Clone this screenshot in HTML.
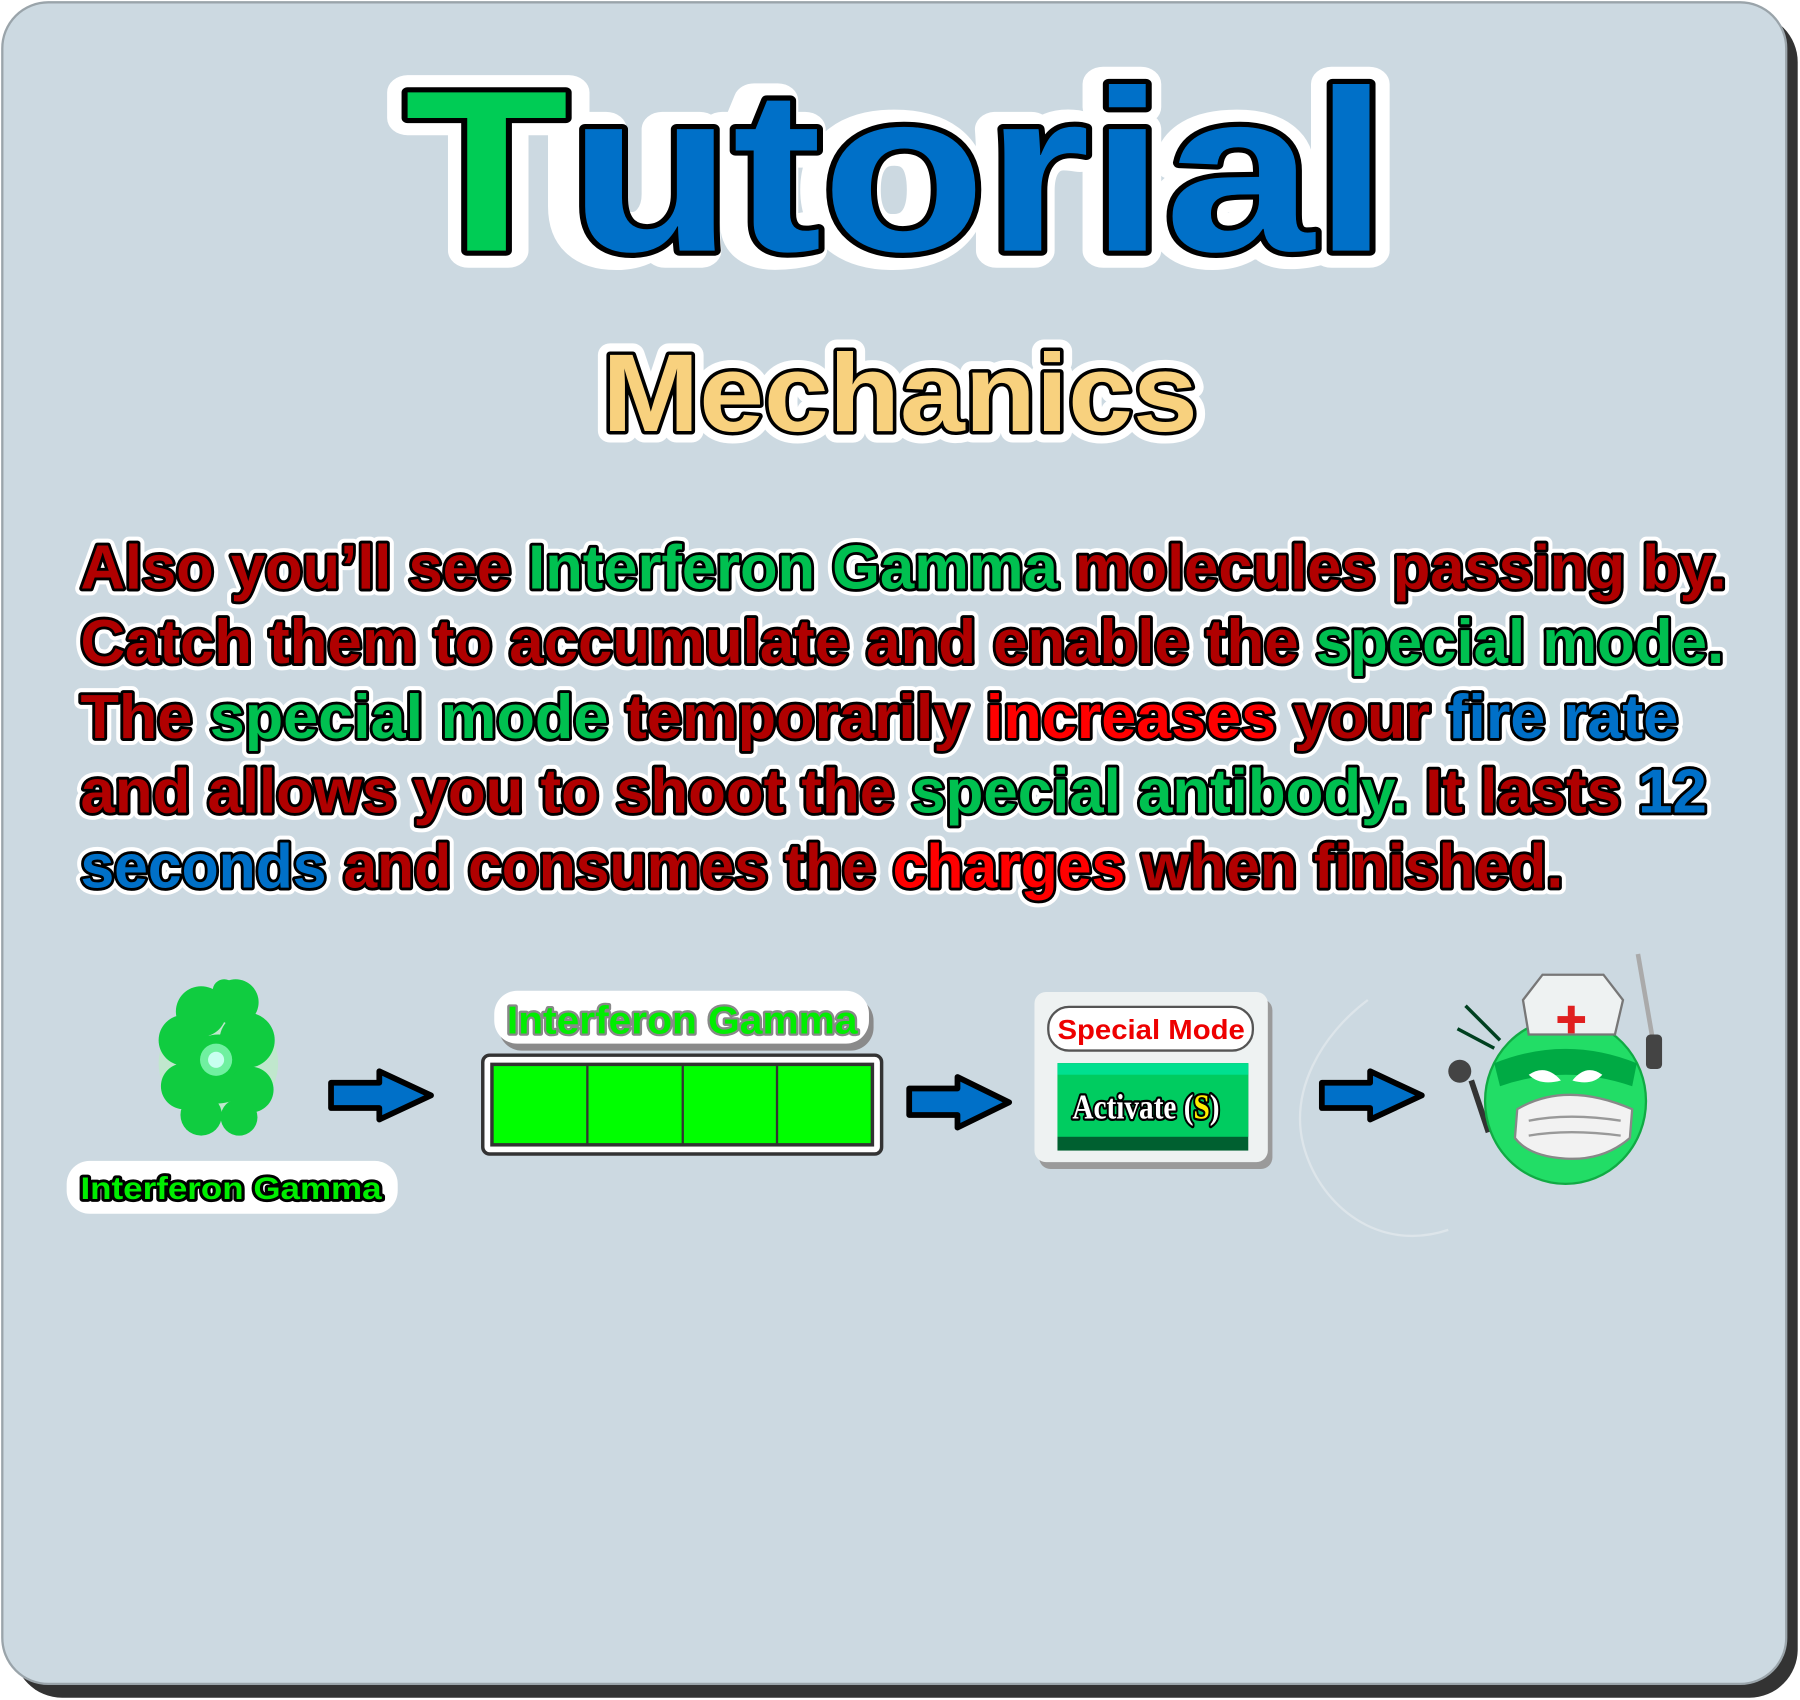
<!DOCTYPE html>
<html><head><meta charset="utf-8"><style>
html,body{margin:0;padding:0;background:#fff;width:1800px;height:1700px;overflow:hidden}
svg{display:block}
.t{font-family:"Liberation Sans",sans-serif;font-weight:bold;paint-order:stroke;stroke-linejoin:round}
</style></head><body>
<svg width="1800" height="1700" viewBox="0 0 1566 1479" preserveAspectRatio="none" xmlns="http://www.w3.org/2000/svg">
<rect x="0" y="0" width="1566" height="1479" fill="#fff"/>
<rect x="12" y="12" width="1552" height="1465" rx="42" fill="#333"/>
<rect x="2" y="2" width="1552" height="1463" rx="40" fill="#ccd9e1" stroke="#9aa4aa" stroke-width="2"/>

<!-- Title -->
<g class="t" font-size="200" text-anchor="start">
<text x="352" y="218" textLength="856" lengthAdjust="spacingAndGlyphs" stroke="#fff" stroke-width="30" fill="#fff">Tutorial</text>
<text x="352" y="218" textLength="856" lengthAdjust="spacingAndGlyphs" stroke="#000" stroke-width="9"><tspan fill="#00cc55">T</tspan><tspan fill="#0070c8">utorial</tspan></text>
</g>
<g class="t" font-size="96">
<text x="524" y="375" textLength="518" lengthAdjust="spacingAndGlyphs" stroke="#fff" stroke-width="20" fill="#fff">Mechanics</text>
<text x="524" y="375" textLength="518" lengthAdjust="spacingAndGlyphs" stroke="#000" stroke-width="6" fill="#f8d17e">Mechanics</text>
</g>

<!-- Paragraph -->
<g class="t" font-size="54">
<g stroke="#fff" stroke-width="12" fill="#fff">
<text x="70" y="512" textLength="1432" lengthAdjust="spacingAndGlyphs">Also you’ll see Interferon Gamma molecules passing by.</text>
<text x="70" y="577" textLength="1430" lengthAdjust="spacingAndGlyphs">Catch them to accumulate and enable the special mode.</text>
<text x="70" y="642" textLength="1390" lengthAdjust="spacingAndGlyphs">The special mode temporarily increases your fire rate</text>
<text x="70" y="707" textLength="1415" lengthAdjust="spacingAndGlyphs">and allows you to shoot the special antibody. It lasts 12</text>
<text x="70" y="772" textLength="1290" lengthAdjust="spacingAndGlyphs">seconds and consumes the charges when finished.</text>
</g>
<g stroke="#000" stroke-width="5" fill="#b00000">
<text x="70" y="512" textLength="1432" lengthAdjust="spacingAndGlyphs">Also you’ll see <tspan fill="#00c050">Interferon Gamma</tspan> molecules passing by.</text>
<text x="70" y="577" textLength="1430" lengthAdjust="spacingAndGlyphs">Catch them to accumulate and enable the <tspan fill="#00c050">special mode.</tspan></text>
<text x="70" y="642" textLength="1390" lengthAdjust="spacingAndGlyphs">The <tspan fill="#00c050">special mode</tspan> temporarily <tspan fill="#ff0000">increases</tspan> your <tspan fill="#0070c8">fire rate</tspan></text>
<text x="70" y="707" textLength="1415" lengthAdjust="spacingAndGlyphs">and allows you to shoot the <tspan fill="#00c050">special antibody.</tspan> It lasts <tspan fill="#0070c8">12</tspan></text>
<text x="70" y="772" textLength="1290" lengthAdjust="spacingAndGlyphs"><tspan fill="#0070c8">seconds</tspan> and consumes the <tspan fill="#ff0000">charges</tspan> when finished.</text>
</g>
</g>

<!-- Molecule -->
<g>
<ellipse cx="190" cy="925" rx="52" ry="48" fill="#b8f0c0" opacity="0.6"/>
<g fill="#10cc40">
<circle cx="175" cy="880" r="22"/><circle cx="205" cy="872" r="20"/><circle cx="160" cy="905" r="22"/>
<circle cx="215" cy="905" r="24"/><circle cx="190" cy="930" r="30"/><circle cx="160" cy="945" r="20"/>
<circle cx="218" cy="948" r="20"/><circle cx="175" cy="970" r="18"/><circle cx="208" cy="972" r="16"/>
<circle cx="195" cy="862" r="10"/>
</g>
<circle cx="188" cy="922" r="14" fill="#70f0a0"/>
<circle cx="188" cy="922" r="7" fill="#c8fff0"/>
</g>
<rect x="58" y="1010" width="288" height="46" rx="20" fill="#fff"/>
<text class="t" x="70" y="1043" font-size="27" textLength="262" lengthAdjust="spacingAndGlyphs" stroke="#000" stroke-width="5" fill="#00ee00">Interferon Gamma</text>

<!-- Arrows -->
<g fill="#0070c8" stroke="#000" stroke-width="5" stroke-linejoin="round">
<path d="M288 942 H330 V932 L375 953 L330 974 V964 H288 Z"/>
<path d="M791 947 H833 V937 L878 959 L833 981 V970 H791 Z"/>
<path d="M1150 942 H1192 V932 L1237 953 L1192 974 V964 H1150 Z"/>
</g>

<!-- Bar -->
<rect x="434" y="868" width="326" height="46" rx="20" fill="#8a8a8a"/>
<rect x="430" y="862" width="326" height="46" rx="20" fill="#fff"/>
<text class="t" x="441" y="899" font-size="34" textLength="305" lengthAdjust="spacingAndGlyphs" stroke="#888" stroke-width="4" fill="#00ee00">Interferon Gamma</text>
<rect x="420" y="918" width="347" height="86" rx="6" fill="#fff" stroke="#333" stroke-width="3"/>
<rect x="428" y="926" width="331" height="70" fill="#00ff00" stroke="#333" stroke-width="3"/>
<g stroke="#333" stroke-width="2"><line x1="511" y1="926" x2="511" y2="996"/><line x1="594" y1="926" x2="594" y2="996"/><line x1="676" y1="926" x2="676" y2="996"/></g>

<!-- Special mode panel -->
<rect x="904" y="869" width="203" height="148" rx="10" fill="#9a9a9a"/>
<rect x="900" y="863" width="203" height="148" rx="10" fill="#eef2f2"/>
<rect x="912" y="876" width="178" height="38" rx="18" fill="#fff" stroke="#555" stroke-width="2"/>
<text class="t" x="920" y="904" font-size="24" textLength="163" lengthAdjust="spacingAndGlyphs" stroke="#fff" stroke-width="3" fill="#ee0000">Special Mode</text>
<rect x="920" y="925" width="166" height="76" fill="#006030"/>
<rect x="920" y="925" width="166" height="64" fill="#00cc60"/>
<rect x="920" y="925" width="166" height="10" fill="#00e090"/>
<text class="t" x="933" y="973" font-size="30" textLength="128" lengthAdjust="spacingAndGlyphs" stroke="#000" stroke-width="4" fill="#fff" style="font-family:'Liberation Serif',serif">Activate (<tspan fill="#ffee00">S</tspan>)</text>

<!-- faint outline -->
<path d="M1190 870 C1150 900 1120 950 1135 1000 C1150 1050 1200 1090 1260 1070" fill="none" stroke="#dde5ea" stroke-width="2"/>

<!-- Character -->
<g>
<line x1="1425" y1="830" x2="1438" y2="905" stroke="#aaa" stroke-width="4"/>
<rect x="1432" y="900" width="14" height="30" rx="4" fill="#444"/>
<path d="M1280 940 L1295 985" stroke="#333" stroke-width="5"/>
<circle cx="1270" cy="932" r="10" fill="#444"/>
<g stroke="#004020" stroke-width="3"><line x1="1275" y1="875" x2="1305" y2="905"/><line x1="1268" y1="895" x2="1300" y2="912"/></g>
<ellipse cx="1362" cy="958" rx="70" ry="72" fill="#22dd66" stroke="#11aa44" stroke-width="2"/>
<path d="M1300 925 Q1362 900 1424 925 L1420 945 Q1362 925 1305 945 Z" fill="#00aa44"/>
<path d="M1330 935 Q1345 925 1358 940 Q1340 945 1330 935 Z" fill="#fff"/>
<path d="M1394 935 Q1380 925 1368 940 Q1385 945 1394 935 Z" fill="#fff"/>
<path d="M1320 965 Q1362 940 1420 965 L1418 990 Q1395 1010 1362 1008 Q1330 1006 1318 990 Z" fill="#f2f2f2" stroke="#888" stroke-width="2"/>
<g stroke="#999" stroke-width="2" fill="none"><path d="M1330 975 Q1365 968 1410 975"/><path d="M1330 988 Q1365 982 1410 988"/></g>
<path d="M1325 870 L1342 848 H1395 L1412 870 L1405 900 H1330 Z" fill="#eef2f2" stroke="#777" stroke-width="2"/>
<rect x="1364" y="875" width="6" height="24" fill="#e02020"/><rect x="1355" y="884" width="24" height="6" fill="#e02020"/>
</g>
</svg>
</body></html>
